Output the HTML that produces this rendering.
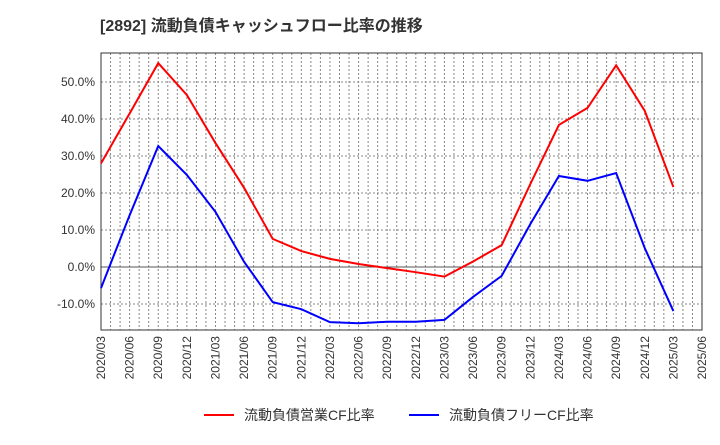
<!DOCTYPE html>
<html><head><meta charset="utf-8"><style>
body{margin:0;background:#fff;font-family:"Liberation Sans","Noto Sans CJK JP",sans-serif;}
svg text{font-family:"Liberation Sans","Noto Sans CJK JP",sans-serif;}
</style></head><body>
<svg id="c" width="720" height="440">
<text x="100" y="31" font-size="16" font-weight="bold" fill="#333">[2892]  流動負債キャッシュフロー比率の推移</text>
<g id="grid"></g><g id="axes"></g><g id="series"></g>
<g>
<line x1="204" y1="415" x2="234" y2="415" stroke="#f00" stroke-width="2"/>
<text x="244" y="420" font-size="14" fill="#333">流動負債営業CF比率</text>
<line x1="409" y1="415" x2="439" y2="415" stroke="#00f" stroke-width="2"/>
<text x="449" y="420" font-size="14" fill="#333">流動負債フリーCF比率</text>
</g>
</svg>
<script>
const categories=["2020/03","2020/06","2020/09","2020/12","2021/03","2021/06","2021/09","2021/12","2022/03","2022/06","2022/09","2022/12","2023/03","2023/06","2023/09","2023/12","2024/03","2024/06","2024/09","2024/12","2025/03"];
const xTickLabels=["2020/03","2020/06","2020/09","2020/12","2021/03","2021/06","2021/09","2021/12","2022/03","2022/06","2022/09","2022/12","2023/03","2023/06","2023/09","2023/12","2024/03","2024/06","2024/09","2024/12","2025/03","2025/06"];
const operatingCF=[28,41.5,55.1,46.5,33.5,21.4,7.6,4.3,2.2,0.8,-0.3,-1.4,-2.6,1.5,5.9,22.4,38.4,43,54.5,42.2,21.6];
const freeCF=[-5.7,14,32.7,24.9,14.9,1.4,-9.5,-11.4,-14.9,-15.2,-14.8,-14.8,-14.3,-8.1,-2.4,11.6,24.6,23.3,25.4,5.1,-11.9];
const yTicks=[-10,0,10,20,30,40,50];
const L=101,R=702,T=53,B=330;
const NS="http://www.w3.org/2000/svg";
const x=i=>L+(R-L)*i/21;
const y=v=>267-v*3.7;
function mk(tag,attrs,parent){const e=document.createElementNS(NS,tag);for(const k in attrs)e.setAttribute(k,attrs[k]);document.getElementById(parent).appendChild(e);return e;}
for(let m=1;m<63;m++){const e=mk('line',{x1:L+(R-L)*m/63,x2:L+(R-L)*m/63,y1:T,y2:B,stroke:'#888','stroke-width':1,'stroke-dasharray':'2,2'},'grid');

}
yTicks.forEach(v=>{const g=mk('line',{x1:L,x2:R,y1:y(v),y2:y(v),stroke:v===0?'#555':'#888','stroke-width':1,'stroke-dasharray':v===0?'none':'2,2'},'grid');


const t=mk('text',{x:L-6,y:y(v)+4,'text-anchor':'end','font-size':12,fill:'#333'},'axes');t.textContent=v.toFixed(1)+'%';

});
const fr=mk('rect',{x:L,y:T,width:R-L,height:B-T,fill:'none',stroke:'#333','stroke-width':1},'axes');


xTickLabels.forEach((s,i)=>{const t=mk('text',{transform:`translate(${x(i)+4},${B+6}) rotate(-90)`,'text-anchor':'end','font-size':12,fill:'#333'},'axes');t.textContent=s;

});
function line(d,c,n){const p=mk('polyline',{points:d.map((v,i)=>x(i)+','+y(v)).join(' '),fill:'none',stroke:c,'stroke-width':2},'series');

}
line(operatingCF,'#f00','operating-cf-line');
line(freeCF,'#00f','free-cf-line');
</script>
</body></html>
